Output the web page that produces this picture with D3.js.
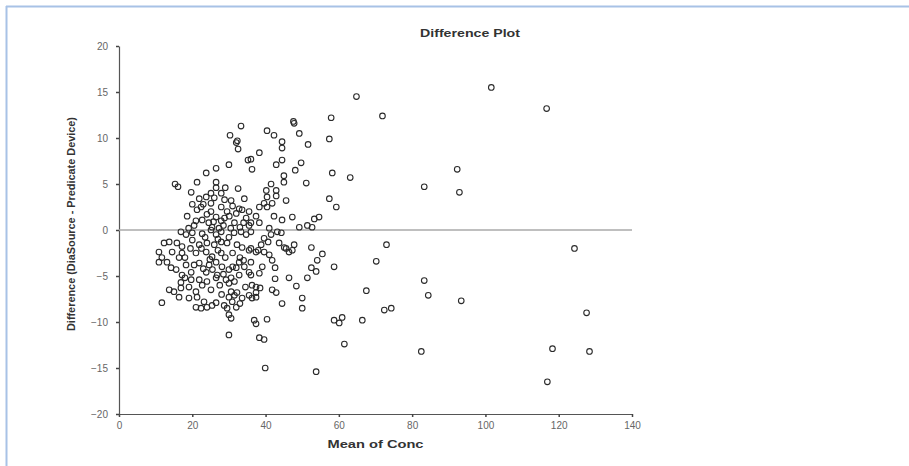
<!DOCTYPE html>
<html>
<head>
<meta charset="utf-8">
<script src="https://cdn.jsdelivr.net/npm/d3@7"></script>
<style>
  body { margin: 0; background: #fff; }
  svg { display: block; }
</style>
</head>
<body>
<div id="chart"></div>
<script>
// =====================
// DATA
// =====================
const chartTitle = "Difference Plot";
const xLabel = "Mean of Conc";
const yLabel = "Difference (DiaSource - Predicate Device)";
const xTicks = [0, 20, 40, 60, 80, 100, 120, 140];
const yTicks = [-20, -15, -10, -5, 0, 5, 10, 15, 20];

// mean of the two devices
const meanConc = [
  101.6,116.7,64.8,71.9,57.9,57.4,58.2,63.1,92.3,92.9,83.3,57.4,59.3,
  73.0,70.2,58.7,67.5,83.3,84.4,93.4,74.3,72.4,66.4,60.9,58.7,60.1,61.5,82.5,
  124.3,127.6,118.3,128.4,116.9,39.9,53.8,
  47.8,49.2,40.4,42.3,44.5,44.5,51.6,38.3,36.0,42.9,44.5,49.7,48.1,36.3,45.0,45.0,51.1,41.5,42.9,40.2,
  40.4,42.9,39.6,41.8,45.6,38.3,40.4,37.4,36.0,38.3,42.3,44.5,47.3,53.3,54.6,49.2,51.4,52.7,41.0,43.2,47.6,
  33.3,30.3,32.0,32.3,32.5,30.0,35.2,26.5,23.8,16.1,15.3,21.3,26.5,26.5,19.7,25.1,27.9,32.5,21.9,30.6,34.2,
  25.1,22.4,27.9,21.3,25.1,32.8,33.6,35.5,18.6,22.7,26.5,27.9,30.1,34.7,25.4,27.3,35.5,
  24.5,28.5,29.5,31.5,33.0,20.5,23.0,26.0,
  16.9,18.3,22.7,25.1,26.5,27.9,30.0,31.4,33.3,34.7,
  12.3,13.7,15.8,17.2,20.0,21.9,24.0,26.0,27.9,29.5,32.2,33.6,35.5,37.4,
  10.9,14.5,17.2,21.0,23.8,25.4,27.9,
  11.7,10.9,13.1,16.4,18.3,21.9,24.6,26.5,28.1,30.0,32.8,34.2,35.5,
  14.2,15.6,17.2,19.7,23.8,26.8,32.8,
  16.9,19.7,21.9,29.2,30.6,
  13.7,15.0,16.9,19.1,21.0,22.7,25.1,26.5,30.0,30.6,30.0,30.9,32.2,33.6,35.5,
  19.1,21.3,23.2,11.7,16.4,
  29.5,21.0,22.4,24.0,25.4,28.7,32.0,
  30.0,30.6,30.0,
  26.5,32.0,36.3,37.4,
  39.6,38.3,36.9,37.4,40.4,50.0,50.0,44.5,41.8,42.9,48.4,46.4,42.6,51.4,52.5,53.8,54.1,55.5,52.5,47.8,
  46.4,45.1,43.7,44.3,41.5,39.6,41.0,41.8,39.1,38.3,37.4,37.4,36.3,
  36.0,38.8,40.7,36.0,38.0,39.6,36.0,42.6,36.0,38.5,45.6,47.3,
  19.0,21.0,23.5,25.8,27.0,28.8,30.5,32.0,34.0,20.0,
  19.5,22.5,24.8,27.0,29.0,31.0,33.0,18.0,20.5,23.0,25.5,28.5,31.0,34.0,
  20.0,23.8,28.8,31.0,24.0,29.0,
  18.0,24.0,27.5,31.5,28.0,31.5,34.5,33.0
];

// DiaSource minus predicate device
const difference = [
  15.5,13.2,14.5,12.4,12.2,9.9,6.2,5.7,6.6,4.1,4.7,3.4,2.5,
  -1.6,-3.4,-4.0,-6.6,-5.5,-7.1,-7.7,-8.5,-8.7,-9.8,-9.5,-9.8,-10.1,-12.4,-13.2,
  -2.0,-9.0,-12.9,-13.2,-16.5,-15.0,-15.4,
  11.6,10.5,10.8,10.3,9.6,8.9,9.3,8.4,7.7,7.1,7.6,7.3,6.5,6.6,5.9,5.2,5.1,5.0,4.3,4.3,
  3.6,3.7,2.9,2.9,3.2,2.5,2.5,1.5,0.8,0.8,1.5,1.1,1.4,1.2,1.4,0.3,0.5,0.3,0.2,-0.2,11.8,
  11.3,10.3,9.5,9.7,8.8,7.1,7.6,6.7,6.2,4.7,5.0,5.2,5.2,4.6,4.1,4.0,4.0,4.5,3.4,3.2,3.4,
  2.9,2.5,2.5,2.2,2.0,2.3,2.2,2.0,1.5,1.1,1.4,1.0,1.5,1.3,0.3,0.2,0.5,
  0.8,0.5,2.0,0.8,0.3,0.5,2.8,3.5,
  -0.2,-0.5,-0.4,0.0,-0.5,-0.2,-0.8,-0.3,-0.2,-0.5,
  -1.4,-1.3,-1.4,-1.8,-1.1,-1.6,-1.4,-1.6,-1.3,-1.4,-1.6,-1.9,-2.2,-2.4,
  -2.4,-2.4,-2.5,-2.5,-2.4,-2.9,-2.5,
  -3.0,-3.5,-3.5,-3.0,-3.8,-3.6,-3.8,-3.5,-4.0,-4.3,-3.5,-4.0,-4.6,
  -4.1,-4.3,-4.9,-4.6,-4.6,-4.9,-4.9,
  -5.7,-5.4,-5.4,-5.4,-5.2,
  -6.5,-6.7,-6.3,-6.2,-6.7,-6.0,-6.5,-7.9,-5.8,-6.7,-7.3,-7.8,-6.8,-7.4,-7.1,
  -7.4,-7.3,-7.8,-7.9,-7.3,
  -8.5,-8.4,-8.5,-8.4,-8.2,-8.2,-8.4,
  -9.2,-9.6,-11.4,
  -5.2,-4.1,-6.0,-6.8,
  -11.9,-11.7,-9.8,-10.2,-9.7,-8.5,-7.4,-8.0,-6.5,-6.8,-6.1,-5.2,-5.3,-5.2,-4.1,-4.5,-3.3,-2.6,-1.9,-1.6,
  -2.4,-1.9,-1.4,-0.3,-0.5,-0.9,-2.7,-3.3,-4.0,-4.7,-6.2,-7.3,-7.4,
  -0.2,-1.6,-1.3,-2.0,-2.2,-2.4,-3.5,-4.1,-4.9,-6.3,-2.0,-2.2,
  0.2,1.0,-0.8,0.9,-1.0,1.3,0.2,1.8,0.8,-0.3,
  -2.0,-2.0,-3.2,-2.2,-3.0,-2.5,-3.0,-3.0,-3.8,-4.2,-4.3,-4.8,-4.0,-3.3,
  2.8,3.6,3.3,2.6,1.7,4.6,
  -5.2,-5.6,-6.0,-5.6,-7.0,-7.1,-6.2,-8.0
];

const points = meanConc.map((m, i) => ({ mean: m, diff: difference[i] }));

// =====================
// SVG SETUP
// =====================
const W = 909, H = 466;
const svg = d3.select("#chart").append("svg")
  .attr("width", W)
  .attr("height", H);

// page frame (light blue, top + left)
svg.append("line").attr("x1", 6).attr("x2", W).attr("y1", 6.5).attr("y2", 6.5)
  .attr("stroke", "#a8c2e6").attr("stroke-width", 2);
svg.append("line").attr("x1", 6.5).attr("x2", 6.5).attr("y1", 6).attr("y2", H)
  .attr("stroke", "#a8c2e6").attr("stroke-width", 2);

// =====================
// SCALES
// =====================
const x = d3.scaleLinear().domain([0, 140]).range([119, 632]);
const y = d3.scaleLinear().domain([-20, 20]).range([414, 46]);

const font = "'Liberation Sans', Arial, sans-serif";

// =====================
// AXES
// =====================
const xAxis = svg.append("g")
  .attr("transform", `translate(0,${y(-20)})`)
  .call(d3.axisBottom(x).tickValues(xTicks).tickSize(3).tickPadding(5).tickSizeOuter(0));

const yAxis = svg.append("g")
  .attr("transform", `translate(${x(0)},0)`)
  .call(d3.axisLeft(y).tickValues(yTicks).tickSize(3).tickPadding(8).tickSizeOuter(0));

[xAxis, yAxis].forEach(g => {
  g.select(".domain").attr("stroke", "#555").attr("stroke-width", 1.2);
  g.selectAll(".tick line").attr("stroke", "#444").attr("stroke-width", 1.5);
  g.selectAll("text")
    .style("font-family", font)
    .style("font-size", "10px")
    .style("fill", "#666");
});

// zero reference line
svg.append("line")
  .attr("x1", x(0)).attr("x2", x(140))
  .attr("y1", y(0)).attr("y2", y(0))
  .attr("stroke", "#aaa")
  .attr("stroke-width", 1.5);

// =====================
// POINTS
// =====================
svg.append("g")
  .selectAll("circle")
  .data(points)
  .enter()
  .append("circle")
  .attr("cx", d => x(d.mean))
  .attr("cy", d => y(d.diff))
  .attr("r", 2.8)
  .attr("fill", "none")
  .attr("stroke", "#2a2a2a")
  .attr("stroke-width", 1.1);

// =====================
// LABELS
// =====================
svg.append("text")
  .attr("x", 470)
  .attr("y", 37)
  .attr("text-anchor", "middle")
  .attr("textLength", 100)
  .attr("lengthAdjust", "spacingAndGlyphs")
  .style("font-family", font)
  .style("font-weight", "bold")
  .style("font-size", "11.5px")
  .style("fill", "#333")
  .text(chartTitle);

svg.append("text")
  .attr("x", x(70))
  .attr("y", 448)
  .attr("text-anchor", "middle")
  .attr("textLength", 96)
  .attr("lengthAdjust", "spacingAndGlyphs")
  .style("font-family", font)
  .style("font-weight", "bold")
  .style("font-size", "11px")
  .style("fill", "#333")
  .text(xLabel);

svg.append("text")
  .attr("transform", `translate(75,${y(0) - 6}) rotate(-90)`)
  .attr("text-anchor", "middle")
  .attr("textLength", 214)
  .attr("lengthAdjust", "spacingAndGlyphs")
  .style("font-family", font)
  .style("font-weight", "bold")
  .style("font-size", "11px")
  .style("fill", "#333")
  .text(yLabel);
</script>
</body>
</html>
